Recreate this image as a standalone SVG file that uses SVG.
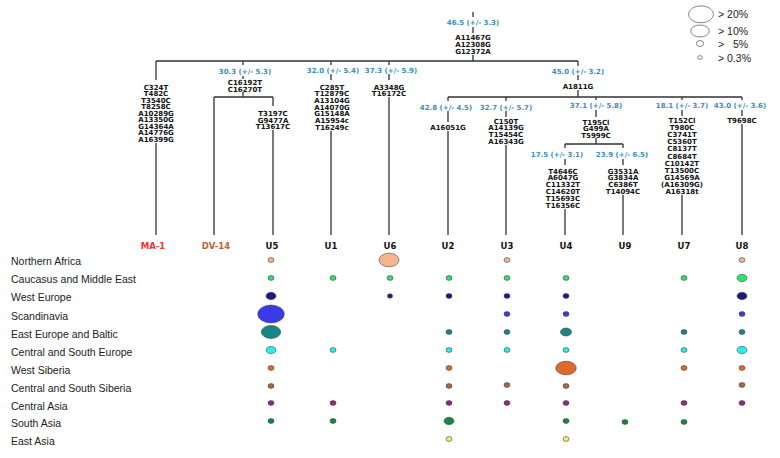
<svg xmlns="http://www.w3.org/2000/svg" width="780" height="458" viewBox="0 0 780 458">
<style>
.ln{stroke:#333;stroke-width:1.3;fill:none}
.mut{font-family:"DejaVu Sans",Verdana,sans-serif;font-weight:bold;font-size:7px;fill:#111;text-anchor:middle}
.age{font-family:"DejaVu Sans",Verdana,sans-serif;font-weight:bold;font-size:7px;fill:#3C8DBF;text-anchor:middle}
.col{font-family:"DejaVu Sans",Verdana,sans-serif;font-weight:bold;font-size:8.5px;fill:#111;text-anchor:middle}
.reg{font-family:"Liberation Sans",Arial,sans-serif;font-size:10.5px;fill:#222}
.leg{font-family:"Liberation Sans",Arial,sans-serif;font-size:10.5px;fill:#222}
.lc{fill:none;stroke:#666;stroke-width:0.8}
.b{stroke:#444;stroke-width:0.6}
.na{fill:#F7B58C}.ca{fill:#2BE36E}.we{fill:#1B1B7E}.sc{fill:#3A3AE6}.ee{fill:#168686}.cs{fill:#27EEEE}
.ws{fill:#E06A2A}.ss{fill:#A5694A}.cz{fill:#8B2A8B}.sa{fill:#118A3C}.ea{fill:#F2EE74}
</style>
<rect width="780" height="458" fill="#fff"/>

<g id="connectors" class="ln">
  <path d="M473 12V17M473 27V33M473 55V61"/>
  <path d="M156 61H578"/>
  <path d="M156 61V80M156 143V235"/>
  <path d="M243 61V65M243 76V79M243 92V97M214 97H273M214 97V235M273 97V106M273 130V235"/>
  <path d="M331 61V65M331 74V80M331 131V235"/>
  <path d="M389 61V65M389 74V80M389 97V235"/>
  <path d="M578 61V66M578 75V80M578 90V97M448 97H742"/>
  <path d="M448 97V101M448 111V122M448 131V235"/>
  <path d="M506 97V101M506 111V117M506 145V235"/>
  <path d="M596 97V100M596 110V117M596 138V144M565 144H623"/>
  <path d="M565 144V148M565 159V165M565 209V235"/>
  <path d="M623 144V148M623 159V165M623 195V235"/>
  <path d="M682 97V100M682 110V116M682 195V235"/>
  <path d="M742 97V100M742 110V116M742 124V235"/>
</g>

<g id="node-root">
  <text class="age" x="473" y="24.5">46.5 (+/- 3.3)</text>
  <text class="mut" x="473" y="39.5">A11467G</text>
  <text class="mut" x="473" y="46.5">A12308G</text>
  <text class="mut" x="473" y="53.5">G12372A</text>
</g>
<g id="node-MA1">
  <text class="mut" x="156" y="89.5">C324T</text>
  <text class="mut" x="156" y="96">T482C</text>
  <text class="mut" x="156" y="102.5">T3540C</text>
  <text class="mut" x="156" y="109">T8258C</text>
  <text class="mut" x="156" y="115.5">A10289G</text>
  <text class="mut" x="156" y="122">A13350G</text>
  <text class="mut" x="156" y="128.5">G14364A</text>
  <text class="mut" x="156" y="135">A14776G</text>
  <text class="mut" x="156" y="141.5">A16399G</text>
  <text class="col" x="153" y="249" style="fill:#E8372F">MA-1</text>
</g>
<g id="node-30">
  <text class="age" x="245" y="73.5">30.3 (+/- 5.3)</text>
  <text class="mut" x="245" y="85">C16192T</text>
  <text class="mut" x="245" y="91.5">C16270T</text>
</g>
<g id="node-DV14">
  <text class="col" x="216" y="249" style="fill:#C0622C">DV-14</text>
</g>
<g id="node-U5">
  <text class="mut" x="273" y="115.5">T3197C</text>
  <text class="mut" x="273" y="122.5">G9477A</text>
  <text class="mut" x="273" y="129">T13617C</text>
  <text class="col" x="272" y="249">U5</text>
</g>
<g id="node-U1">
  <text class="age" x="333" y="72.5">32.0 (+/- 5.4)</text>
  <text class="mut" x="332" y="89.5">C285T</text>
  <text class="mut" x="332" y="96">T12879C</text>
  <text class="mut" x="332" y="102.5">A13104G</text>
  <text class="mut" x="332" y="109.5">A14070G</text>
  <text class="mut" x="332" y="116">G15148A</text>
  <text class="mut" x="332" y="122.5">A15954c</text>
  <text class="mut" x="332" y="129.5">T16249c</text>
  <text class="col" x="331" y="249">U1</text>
</g>
<g id="node-U6">
  <text class="age" x="391" y="72.5">37.3 (+/- 5.9)</text>
  <text class="mut" x="389" y="89.5">A3348G</text>
  <text class="mut" x="389" y="96">T16172C</text>
  <text class="col" x="390" y="249">U6</text>
</g>
<g id="node-45">
  <text class="age" x="578" y="73.5">45.0 (+/- 3.2)</text>
  <text class="mut" x="578" y="88.5">A1811G</text>
</g>
<g id="node-U2">
  <text class="age" x="446" y="109.5">42.8 (+/- 4.5)</text>
  <text class="mut" x="448" y="129.5">A16051G</text>
  <text class="col" x="448" y="249">U2</text>
</g>
<g id="node-U3">
  <text class="age" x="506" y="109.5">32.7 (+/- 5.7)</text>
  <text class="mut" x="506" y="123.5">C150T</text>
  <text class="mut" x="506" y="130">A14139G</text>
  <text class="mut" x="506" y="136.5">T15454C</text>
  <text class="mut" x="506" y="143.5">A16343G</text>
  <text class="col" x="507" y="249">U3</text>
</g>
<g id="node-37">
  <text class="age" x="596" y="107.5">37.1 (+/- 5.8)</text>
  <text class="mut" x="596" y="124.5">T195Cl</text>
  <text class="mut" x="596" y="131">G499A</text>
  <text class="mut" x="596" y="137.5">T5999C</text>
</g>
<g id="node-U4">
  <text class="age" x="557" y="156.5">17.5 (+/- 3.1)</text>
  <text class="mut" x="563" y="173.5">T4646C</text>
  <text class="mut" x="563" y="180">A6047G</text>
  <text class="mut" x="563" y="186.5">C11332T</text>
  <text class="mut" x="563" y="193.5">C14620T</text>
  <text class="mut" x="563" y="200.5">T15693C</text>
  <text class="mut" x="563" y="207.5">T16356C</text>
  <text class="col" x="566" y="249">U4</text>
</g>
<g id="node-U9">
  <text class="age" x="622" y="156.5">23.9 (+/- 6.5)</text>
  <text class="mut" x="623" y="173.5">G3531A</text>
  <text class="mut" x="623" y="180">G3834A</text>
  <text class="mut" x="623" y="186.5">C6386T</text>
  <text class="mut" x="623" y="193.5">T14094C</text>
  <text class="col" x="625" y="249">U9</text>
</g>
<g id="node-U7">
  <text class="age" x="682" y="108">18.1 (+/- 3.7)</text>
  <text class="mut" x="682" y="123">T152Cl</text>
  <text class="mut" x="682" y="129.5">T980C</text>
  <text class="mut" x="682" y="136.5">C3741T</text>
  <text class="mut" x="682" y="144">C5360T</text>
  <text class="mut" x="682" y="151">C8137T</text>
  <text class="mut" x="682" y="158.5">C8684T</text>
  <text class="mut" x="682" y="165.5">C10142T</text>
  <text class="mut" x="682" y="172.5">T13500C</text>
  <text class="mut" x="682" y="179.5">G14569A</text>
  <text class="mut" x="682" y="187">(A16309G)</text>
  <text class="mut" x="682" y="193.5">A16318t</text>
  <text class="col" x="684" y="249">U7</text>
</g>
<g id="node-U8">
  <text class="age" x="740" y="108">43.0 (+/- 3.6)</text>
  <text class="mut" x="742" y="123">T9698C</text>
  <text class="col" x="742" y="249">U8</text>
</g>

<g id="legend">
  <ellipse class="lc" cx="701" cy="14.3" rx="12.5" ry="8.5"/>
  <ellipse class="lc" cx="700" cy="31" rx="9.3" ry="6"/>
  <ellipse class="lc" cx="700" cy="43.5" rx="3.7" ry="3"/>
  <ellipse class="lc" cx="700" cy="57.5" rx="2.5" ry="1.8"/>
  <text class="leg" x="718" y="18">&gt; 20%</text>
  <text class="leg" x="718" y="35">&gt; 10%</text>
  <text class="leg" x="718" y="47.5" xml:space="preserve">&gt;   5%</text>
  <text class="leg" x="718" y="61.5">&gt; 0.3%</text>
</g>

<g id="regions">
  <text class="reg" x="11" y="265">Northern Africa</text>
  <text class="reg" x="11" y="283">Caucasus and Middle East</text>
  <text class="reg" x="11" y="301">West Europe</text>
  <text class="reg" x="11" y="320">Scandinavia</text>
  <text class="reg" x="11" y="338">East Europe and Baltic</text>
  <text class="reg" x="11" y="356">Central and South Europe</text>
  <text class="reg" x="11" y="373.5">West Siberia</text>
  <text class="reg" x="11" y="392">Central and South Siberia</text>
  <text class="reg" x="11" y="409.5">Central Asia</text>
  <text class="reg" x="11" y="427">South Asia</text>
  <text class="reg" x="11" y="445">East Asia</text>
</g>

<g id="bubbles" class="b">
  <!-- Northern Africa -->
  <ellipse class="na" cx="271" cy="260" rx="3" ry="2.4"/>
  <ellipse class="na" cx="389" cy="260" rx="10" ry="6.8"/>
  <ellipse class="na" cx="507" cy="260" rx="3" ry="2.4"/>
  <ellipse class="na" cx="742" cy="260" rx="3" ry="2.4"/>
  <!-- Caucasus -->
  <ellipse class="ca" cx="271" cy="278" rx="3" ry="2.4"/>
  <ellipse class="ca" cx="333" cy="278" rx="3" ry="2.4"/>
  <ellipse class="ca" cx="390" cy="278" rx="3" ry="2.4"/>
  <ellipse class="ca" cx="449" cy="278" rx="3" ry="2.4"/>
  <ellipse class="ca" cx="507" cy="278" rx="3" ry="2.4"/>
  <ellipse class="ca" cx="566" cy="278" rx="3" ry="2.4"/>
  <ellipse class="ca" cx="684" cy="278" rx="3" ry="2.4"/>
  <ellipse class="ca" cx="742" cy="278" rx="5" ry="3.7"/>
  <!-- West Europe -->
  <ellipse class="we" cx="271" cy="296" rx="5" ry="3.7"/>
  <ellipse class="we" cx="390" cy="296" rx="2.6" ry="2.2"/>
  <ellipse class="we" cx="449" cy="296" rx="3" ry="2.4"/>
  <ellipse class="we" cx="507" cy="296" rx="3" ry="2.4"/>
  <ellipse class="we" cx="566" cy="296" rx="3" ry="2.4"/>
  <ellipse class="we" cx="742" cy="296" rx="5" ry="3.7"/>
  <!-- Scandinavia -->
  <ellipse class="sc" cx="271" cy="314" rx="13.3" ry="9"/>
  <ellipse class="sc" cx="507" cy="314" rx="3" ry="2.4"/>
  <ellipse class="sc" cx="566" cy="314" rx="3" ry="2.4"/>
  <ellipse class="sc" cx="742" cy="314" rx="3" ry="2.4"/>
  <!-- East Europe and Baltic -->
  <ellipse class="ee" cx="271" cy="332" rx="9.7" ry="6.5"/>
  <ellipse class="ee" cx="449" cy="332" rx="3" ry="2.4"/>
  <ellipse class="ee" cx="507" cy="332" rx="3" ry="2.4"/>
  <ellipse class="ee" cx="566" cy="332" rx="5.5" ry="4"/>
  <ellipse class="ee" cx="684" cy="332" rx="3" ry="2.4"/>
  <ellipse class="ee" cx="742" cy="332" rx="3" ry="2.4"/>
  <!-- Central and South Europe -->
  <ellipse class="cs" cx="271" cy="350" rx="5" ry="3.6"/>
  <ellipse class="cs" cx="333" cy="350" rx="3" ry="2.4"/>
  <ellipse class="cs" cx="449" cy="350" rx="3" ry="2.4"/>
  <ellipse class="cs" cx="507" cy="350" rx="3" ry="2.4"/>
  <ellipse class="cs" cx="566" cy="350" rx="3" ry="2.4"/>
  <ellipse class="cs" cx="684" cy="350" rx="3" ry="2.4"/>
  <ellipse class="cs" cx="742" cy="350" rx="5" ry="3.7"/>
  <!-- West Siberia -->
  <ellipse class="ws" cx="271" cy="368" rx="3" ry="2.4"/>
  <ellipse class="ws" cx="449" cy="368" rx="3" ry="2.4"/>
  <ellipse class="ws" cx="566" cy="368" rx="10.3" ry="6.8"/>
  <ellipse class="ws" cx="684" cy="368" rx="3" ry="2.4"/>
  <ellipse class="ws" cx="742" cy="368" rx="3" ry="2.4"/>
  <!-- Central and South Siberia -->
  <ellipse class="ss" cx="271" cy="386" rx="3" ry="2.4"/>
  <ellipse class="ss" cx="449" cy="386" rx="3" ry="2.4"/>
  <ellipse class="ss" cx="507" cy="385" rx="3" ry="2.4"/>
  <ellipse class="ss" cx="566" cy="386" rx="3" ry="2.4"/>
  <ellipse class="ss" cx="742" cy="385" rx="3" ry="2.4"/>
  <!-- Central Asia -->
  <ellipse class="cz" cx="271" cy="403" rx="3" ry="2.4"/>
  <ellipse class="cz" cx="333" cy="403" rx="3" ry="2.4"/>
  <ellipse class="cz" cx="449" cy="403" rx="3" ry="2.4"/>
  <ellipse class="cz" cx="507" cy="403" rx="3" ry="2.4"/>
  <ellipse class="cz" cx="566" cy="403" rx="3" ry="2.4"/>
  <ellipse class="cz" cx="684" cy="403" rx="3" ry="2.4"/>
  <ellipse class="cz" cx="742" cy="403" rx="3" ry="2.4"/>
  <!-- South Asia -->
  <ellipse class="sa" cx="271" cy="421" rx="3" ry="2.4"/>
  <ellipse class="sa" cx="333" cy="421" rx="3" ry="2.4"/>
  <ellipse class="sa" cx="449" cy="421" rx="5" ry="3.7"/>
  <ellipse class="sa" cx="566" cy="421" rx="3" ry="2.4"/>
  <ellipse class="sa" cx="625" cy="422" rx="3" ry="2.4"/>
  <ellipse class="sa" cx="684" cy="422" rx="3" ry="2.4"/>
  <!-- East Asia -->
  <ellipse class="ea" cx="449" cy="439" rx="3" ry="2.4"/>
  <ellipse class="ea" cx="566" cy="439" rx="3" ry="2.4"/>
</g>
</svg>
